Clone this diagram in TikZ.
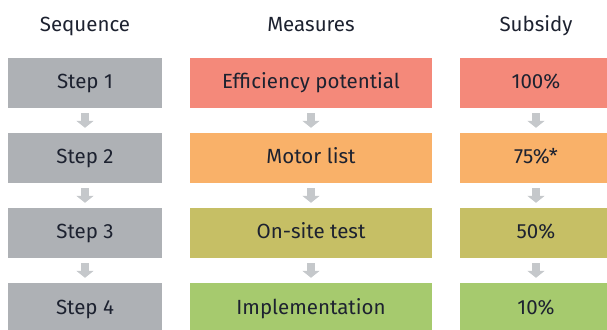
\documentclass[tikz,border=0pt]{standalone}
\usepackage{fontspec}
\setmainfont{Fira Sans}
\usetikzlibrary{arrows.meta}

\definecolor{inkdark}{HTML}{1D2230}
\definecolor{stepgray}{HTML}{AEB1B5}
\definecolor{arrowgray}{HTML}{C5C8CB}
\definecolor{redrow}{HTML}{F4897A}
\definecolor{orangerow}{HTML}{F9B169}
\definecolor{olivrow}{HTML}{C6BF65}
\definecolor{greenrow}{HTML}{A6CA6E}

\begin{document}
\begin{tikzpicture}[
  x=1pt, y=1pt,
  font=\fontsize{20.5}{22}\selectfont, text=inkdark,
  header/.style={anchor=base},
  cell/.style={minimum height=50pt, inner sep=0pt, text height=12pt, text depth=0pt},
  stepbox/.style={cell, fill=stepgray, minimum width=154pt},
  measbox/.style={cell, minimum width=242pt},
  subbox/.style={cell, minimum width=152pt},
  flow/.style={draw=arrowgray, line width=8pt, shorten <=5pt, shorten >=5pt,
    -{Triangle[width=17pt, length=7pt, fill=arrowgray]}}
]
  % page frame of the reference
  \useasboundingbox (0,0) rectangle (607,329);

  % column titles
  \node[header] (hseq)  at (85,297)  {Sequence};
  \node[header] (hmeas) at (311,297) {Measures};
  \node[header] (hsub)  at (536,297) {Subsidy};

  % sequence column
  \node[stepbox] (step1) at (85,246) {Step 1};
  \node[stepbox] (step2) at (85,171) {Step 2};
  \node[stepbox] (step3) at (85,96)  {Step 3};
  \node[stepbox] (step4) at (85,21)  {Step 4};

  % measures column
  \node[measbox, fill=redrow]    (meas1) at (311,246) {Efficiency potential};
  \node[measbox, fill=orangerow] (meas2) at (311,171) {Motor list};
  \node[measbox, fill=olivrow]   (meas3) at (311,96)  {On-site test};
  \node[measbox, fill=greenrow]  (meas4) at (311,21)  {Implementation};

  % subsidy column
  \node[subbox, fill=redrow]    (sub1) at (536,246) {100\%};
  \node[subbox, fill=orangerow] (sub2) at (536,171) {75\%*};
  \node[subbox, fill=olivrow]   (sub3) at (536,96)  {50\%};
  \node[subbox, fill=greenrow]  (sub4) at (536,21)  {10\%};

  % down arrows between rows
  \draw[flow] (step1) -- (step2);
  \draw[flow] (step2) -- (step3);
  \draw[flow] (step3) -- (step4);
  \draw[flow] (meas1) -- (meas2);
  \draw[flow] (meas2) -- (meas3);
  \draw[flow] (meas3) -- (meas4);
  \draw[flow] (sub1) -- (sub2);
  \draw[flow] (sub2) -- (sub3);
  \draw[flow] (sub3) -- (sub4);

\end{tikzpicture}
\end{document}
